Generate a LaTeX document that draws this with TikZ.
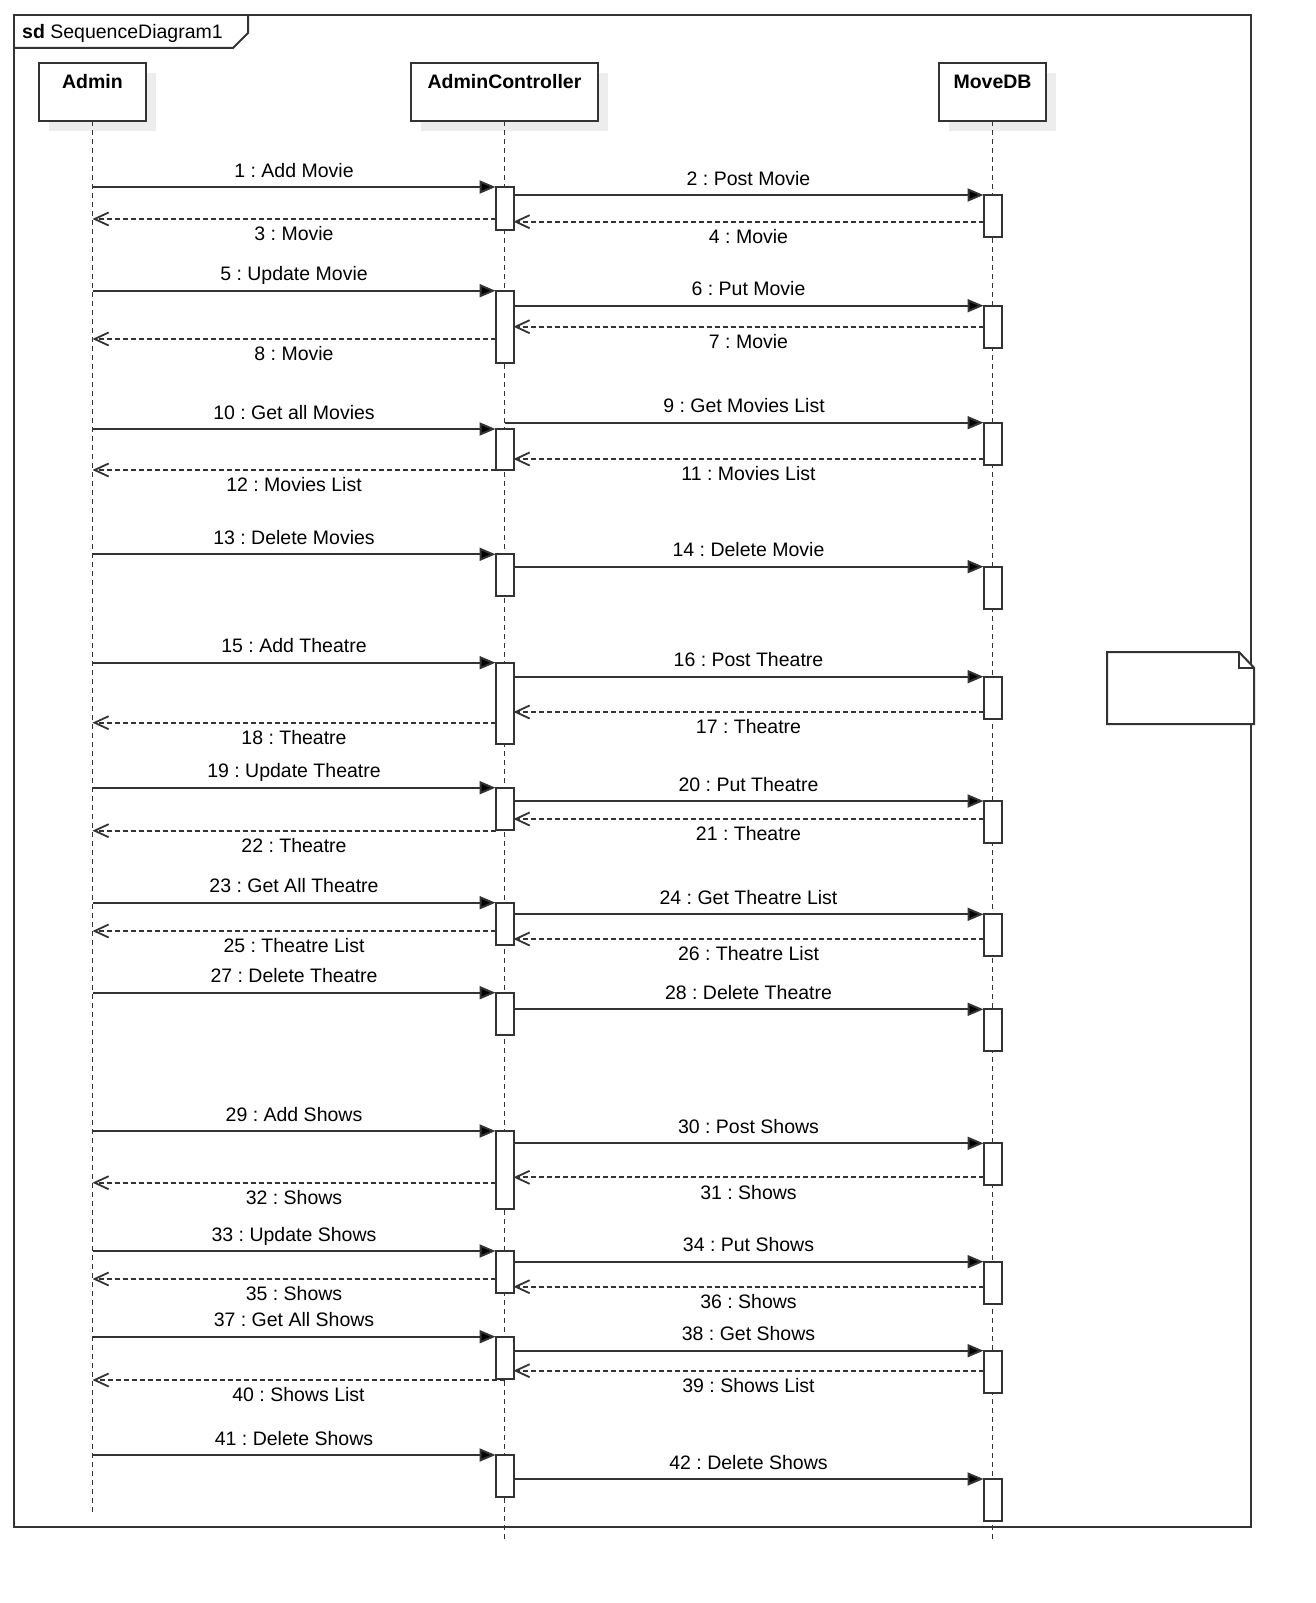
\documentclass[tikz,border=0pt]{standalone}
\usepackage{fontspec}
\setmainfont{Liberation Sans}
\usetikzlibrary{arrows.meta, shadows}
\frenchspacing

\definecolor{ink}{HTML}{333333}
\newcommand{\umlfont}{\fontsize{19.5}{23}\selectfont}

\tikzset{
  head/.style={draw=ink, fill=white, line width=1.6pt, minimum height=58pt,
    inner sep=0pt, outer sep=0pt, anchor=north, font=\umlfont\bfseries,
    text height=25.5pt, text depth=32.5pt,
    general shadow={fill=black!7, shadow xshift=10pt, shadow yshift=-10pt}},
  actbox/.style={draw=ink, fill=white, line width=2pt, minimum width=18pt,
    minimum height=42pt, inner sep=0pt, outer sep=0pt, anchor=north},
  lifeline/.style={draw=ink, line width=1.2pt, dash pattern=on 5pt off 4pt},
  call/.style={draw=ink, line width=2pt, -{Triangle[length=16pt,width=13pt,fill=black]}},
  ret/.style={draw=ink, line width=1.8pt, dash pattern=on 5pt off 3pt,
    -{Straight Barb[length=14pt,width=13pt]}},
  msgtop/.style={midway, anchor=south, inner xsep=0pt, inner ysep=5pt,
    text height=14pt, text depth=4pt},
  msgbot/.style={midway, anchor=north, inner xsep=0pt, inner ysep=6.8pt,
    text height=14pt, text depth=4pt},
  frame/.style={draw=ink, line width=2pt}
}

\begin{document}
\begin{tikzpicture}[x=1pt, y=-1pt, font=\umlfont]
\useasboundingbox (0,0) rectangle (1315,1603);

\draw[frame] (14,15) rectangle (1251,1527);
\draw[frame] (14,48) -- (233,48) -- (248,33) -- (248,15);
\node[anchor=base west, inner sep=0pt] (sdname) at (22,38.7) {\textbf{sd} SequenceDiagram1};

\node[head, minimum width=107pt] (admin) at (92.5,63) {Admin};
\node[head, minimum width=187pt] (ctrl) at (504.5,63) {AdminController};
\node[head, minimum width=107pt] (db) at (992.5,63) {MoveDB};

\coordinate (adminEnd) at (92.5,1513);
\coordinate (ctrlEnd) at (504.5,1540);
\coordinate (dbEnd) at (992.5,1540);
\draw[lifeline] (admin) -- (adminEnd);
\draw[lifeline] (ctrl) -- (ctrlEnd);
\draw[lifeline] (db) -- (dbEnd);

\node[actbox, minimum height=42.5pt] (c1) at (504.5,187) {};
\node[actbox, minimum height=72pt] (c2) at (504.5,290.7) {};
\node[actbox, minimum height=41pt] (c3) at (504.5,429) {};
\node[actbox] (c4) at (504.5,554.3) {};
\node[actbox, minimum height=81.3pt] (c5) at (504.5,662.7) {};
\node[actbox] (c6) at (504.5,787.7) {};
\node[actbox] (c7) at (504.5,902.7) {};
\node[actbox] (c8) at (504.5,992.7) {};
\node[actbox, minimum height=78pt] (c9) at (504.5,1131) {};
\node[actbox] (c10) at (504.5,1251) {};
\node[actbox] (c11) at (504.5,1336.7) {};
\node[actbox] (c12) at (504.5,1455) {};

\node[actbox] (d1) at (992.5,195) {};
\node[actbox] (d2) at (992.5,305.7) {};
\node[actbox] (d3) at (992.5,422.7) {};
\node[actbox] (d4) at (992.5,566.7) {};
\node[actbox] (d5) at (992.5,676.7) {};
\node[actbox] (d6) at (992.5,801) {};
\node[actbox] (d7) at (992.5,914.3) {};
\node[actbox] (d8) at (992.5,1009.3) {};
\node[actbox] (d9) at (992.5,1143.3) {};
\node[actbox] (d10) at (992.5,1261.7) {};
\node[actbox] (d11) at (992.5,1350.7) {};
\node[actbox] (d12) at (992.5,1479) {};

\draw[call] (admin |- c1.north) -- (c1.north west) node[msgtop] {1 : Add Movie};
\draw[call] (c1.east |- d1.north) -- (d1.north west) node[msgtop] {2 : Post Movie};
\draw[ret] (c1.west |- 0,219) -- (admin |- 0,219) node[msgbot] {3 : Movie};
\draw[ret] (d1.west |- 0,221.7) -- (c1.east |- 0,221.7) node[msgbot] {4 : Movie};

\draw[call] (admin |- c2.north) -- (c2.north west) node[msgtop] {5 : Update Movie};
\draw[call] (c2.east |- d2.north) -- (d2.north west) node[msgtop] {6 : Put Movie};
\draw[ret] (d2.west |- 0,326.7) -- (c2.east |- 0,326.7) node[msgbot] {7 : Movie};
\draw[ret] (c2.west |- 0,339) -- (admin |- 0,339) node[msgbot] {8 : Movie};

\draw[call] (ctrl |- d3.north) -- (d3.north west) node[msgtop] {9 : Get Movies List};
\draw[call] (admin |- c3.north) -- (c3.north west) node[msgtop] {10 : Get all Movies};
\draw[ret] (d3.west |- 0,459) -- (c3.east |- 0,459) node[msgbot] {11 : Movies List};
\draw[ret] (c3.west |- 0,470) -- (admin |- 0,470) node[msgbot] {12 : Movies List};

\draw[call] (admin |- c4.north) -- (c4.north west) node[msgtop] {13 : Delete Movies};
\draw[call] (c4.east |- d4.north) -- (d4.north west) node[msgtop] {14 : Delete Movie};

\draw[call] (admin |- c5.north) -- (c5.north west) node[msgtop] {15 : Add Theatre};
\draw[call] (c5.east |- d5.north) -- (d5.north west) node[msgtop] {16 : Post Theatre};
\draw[ret] (d5.west |- 0,712) -- (c5.east |- 0,712) node[msgbot] {17 : Theatre};
\draw[ret] (c5.west |- 0,722.7) -- (admin |- 0,722.7) node[msgbot] {18 : Theatre};

\draw[call] (admin |- c6.north) -- (c6.north west) node[msgtop] {19 : Update Theatre};
\draw[call] (c6.east |- d6.north) -- (d6.north west) node[msgtop] {20 : Put Theatre};
\draw[ret] (d6.west |- 0,819) -- (c6.east |- 0,819) node[msgbot] {21 : Theatre};
\draw[ret] (c6.west |- 0,830.7) -- (admin |- 0,830.7) node[msgbot] {22 : Theatre};

\draw[call] (admin |- c7.north) -- (c7.north west) node[msgtop] {23 : Get All Theatre};
\draw[call] (c7.east |- d7.north) -- (d7.north west) node[msgtop] {24 : Get Theatre List};
\draw[ret] (c7.west |- 0,931) -- (admin |- 0,931) node[msgbot] {25 : Theatre List};
\draw[ret] (d7.west |- 0,939) -- (c7.east |- 0,939) node[msgbot] {26 : Theatre List};

\draw[call] (admin |- c8.north) -- (c8.north west) node[msgtop] {27 : Delete Theatre};
\draw[call] (c8.east |- d8.north) -- (d8.north west) node[msgtop] {28 : Delete Theatre};

\draw[call] (admin |- c9.north) -- (c9.north west) node[msgtop] {29 : Add Shows};
\draw[call] (c9.east |- d9.north) -- (d9.north west) node[msgtop] {30 : Post Shows};
\draw[ret] (d9.west |- 0,1177.3) -- (c9.east |- 0,1177.3) node[msgbot] {31 : Shows};
\draw[ret] (c9.west |- 0,1182.7) -- (admin |- 0,1182.7) node[msgbot] {32 : Shows};

\draw[call] (admin |- c10.north) -- (c10.north west) node[msgtop] {33 : Update Shows};
\draw[call] (c10.east |- d10.north) -- (d10.north west) node[msgtop] {34 : Put Shows};
\draw[ret] (c10.west |- 0,1279) -- (admin |- 0,1279) node[msgbot] {35 : Shows};
\draw[ret] (d10.west |- 0,1286.7) -- (c10.east |- 0,1286.7) node[msgbot] {36 : Shows};

\draw[call] (admin |- c11.north) -- (c11.north west) node[msgtop] {37 : Get All Shows};
\draw[call] (c11.east |- d11.north) -- (d11.north west) node[msgtop] {38 : Get Shows};
\draw[ret] (d11.west |- 0,1370.7) -- (c11.east |- 0,1370.7) node[msgbot] {39 : Shows List};
\draw[ret] (ctrl |- 0,1380) -- (admin |- 0,1380) node[msgbot] {40 : Shows List};

\draw[call] (admin |- c12.north) -- (c12.north west) node[msgtop] {41 : Delete Shows};
\draw[call] (c12.east |- d12.north) -- (d12.north west) node[msgtop] {42 : Delete Shows};

\draw[frame, fill=white] (1107,652) -- (1239,652) -- (1254,667.7) -- (1254,724) -- (1107,724) -- cycle;
\draw[frame] (1239,652) -- (1239,667.7) -- (1254,667.7);
\end{tikzpicture}
\end{document}
